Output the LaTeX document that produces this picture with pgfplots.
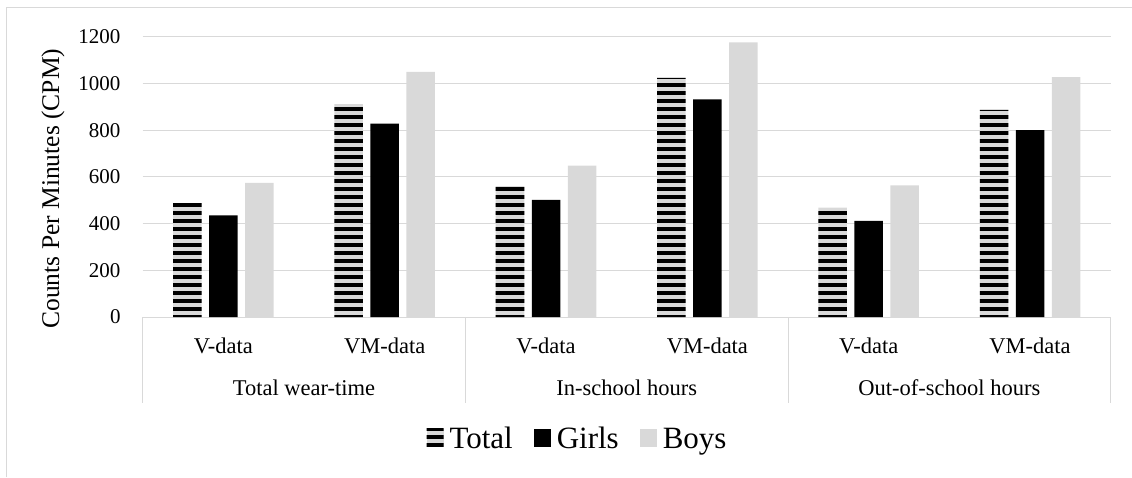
\documentclass[border=0pt]{standalone}
\usepackage{pgfplots}
\pgfplotsset{compat=1.18}
\usepackage{pgfplotstable}
\usetikzlibrary{patterns.meta}
\usepackage{fontspec}
\setmainfont{Liberation Serif}

\definecolor{lightbar}{HTML}{D9D9D9}
\definecolor{gridgray}{HTML}{D9D9D9}

% CPM per measure (0-5 = Total wear-time V/VM, In-school V/VM, Out-of-school V/VM)
\pgfplotstableread{
x y
0 488
1 911
2 560
3 1024
4 468
5 887
}\totaltab
\pgfplotstableread{
x y
0 435
1 828
2 501
3 932
4 412
5 800
}\girlstab
\pgfplotstableread{
x y
0 574
1 1049
2 648
3 1176
4 564
5 1027
}\boystab

\begin{document}
\begin{tikzpicture}[x=1pt,y=1pt]
\useasboundingbox (0,0) rectangle (1132,477);
% chart frame
\draw[gridgray, line width=1pt] (6,0) -- (6,469) -- (1132,469);

\begin{axis}[
  at={(142.7pt,160pt)}, anchor=south west,
  scale only axis,
  width=968pt, height=280.3pt,
  xmin=-0.5, xmax=5.5,
  ymin=0, ymax=1200,
  ytick={0,200,...,1200},
  xtick={0,...,5},
  xticklabels={V-data,VM-data,V-data,VM-data,V-data,VM-data},
  axis line style={draw=none},
  major tick length=0pt,
  ymajorgrids,
  grid style={gridgray, line width=1pt},
  clip=false,
  /pgf/number format/assume math mode=true,
  /pgf/number format/1000 sep={},
  yticklabel style={font=\fontsize{21}{25}\selectfont, inner sep=0pt, anchor=east, xshift=-22pt},
  xticklabel style={font=\fontsize{22.5}{26}\selectfont, inner sep=0pt, anchor=base, yshift=-36.3pt},
  ylabel={Counts Per Minutes (CPM)},
  ylabel style={font=\fontsize{25.5}{30}\selectfont, at={(axis description cs:-0.0927,0.458)}, anchor=center},
  bar width=0.177,
  legend columns=3,
  legend style={
    at={(axis description cs:0.4487,-0.435)}, anchor=center,
    draw=none, fill=none,
    font=\fontsize{31}{35}\selectfont,
    nodes={inner sep=1pt},
    /tikz/every odd column/.append style={column sep=5pt},
    /tikz/every even column/.append style={column sep=20pt},
  },
  legend image code/.code={%
    \path[#1, draw=none] (0pt,-8pt) rectangle (17pt,10pt);
  },
]
\addplot[ybar, bar shift=-0.2232, draw=none, fill=lightbar,
  postaction={pattern={Lines[angle=0,distance=8pt,line width=4pt]}, pattern color=black}]
  table[x=x,y=y] {\totaltab};
\addlegendentry{Total}
\addplot[ybar, bar shift=0, draw=none, fill=black]
  table[x=x,y=y] {\girlstab};
\addlegendentry{Girls}
\addplot[ybar, bar shift=0.2232, draw=none, fill=lightbar]
  table[x=x,y=y] {\boystab};
\addlegendentry{Boys}

% group separators below the category axis
\draw[gridgray, line width=1pt] (axis cs:-0.5,0) -- ([yshift=-86pt]axis cs:-0.5,0);
\draw[gridgray, line width=1pt] (axis cs:1.5,0) -- ([yshift=-86pt]axis cs:1.5,0);
\draw[gridgray, line width=1pt] (axis cs:3.5,0) -- ([yshift=-86pt]axis cs:3.5,0);
\draw[gridgray, line width=1pt] (axis cs:5.5,0) -- ([yshift=-86pt]axis cs:5.5,0);

% outer category labels
\node[font=\fontsize{22.5}{26}\selectfont, anchor=base, inner sep=0pt] at ([yshift=-78pt]axis cs:0.5,0) {Total wear-time};
\node[font=\fontsize{22.5}{26}\selectfont, anchor=base, inner sep=0pt] at ([yshift=-78pt]axis cs:2.5,0) {In-school hours};
\node[font=\fontsize{22.5}{26}\selectfont, anchor=base, inner sep=0pt] at ([yshift=-78pt]axis cs:4.5,0) {Out-of-school hours};
\end{axis}
\end{tikzpicture}
\end{document}
